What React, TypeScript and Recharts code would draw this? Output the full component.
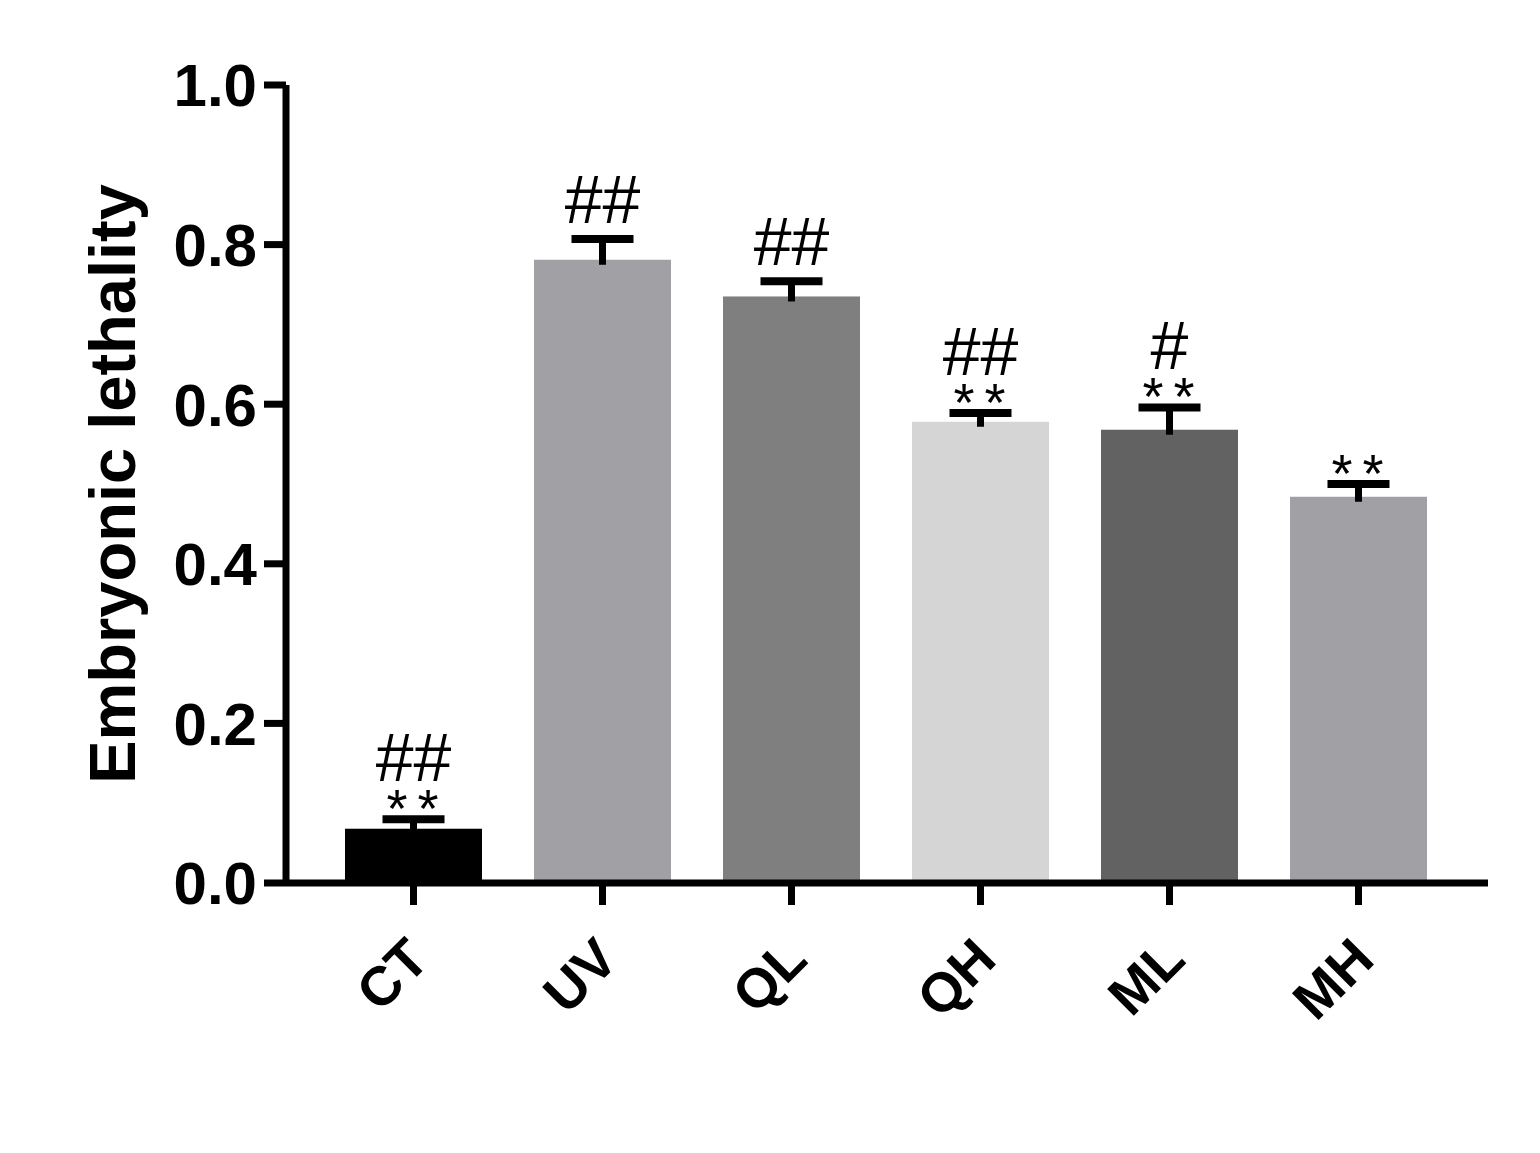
import { BarChart, Bar, XAxis, YAxis, Label } from 'recharts';

const groups = ['CT', 'UV', 'QL', 'QH', 'ML', 'MH'];
const lethality = [0.068, 0.781, 0.735, 0.578, 0.568, 0.484];
const sem = [0.012, 0.026, 0.019, 0.011, 0.028, 0.016];
const hashMarks = ['##', '##', '##', '##', '#', ''];
const starMarks = ['**', '', '', '**', '**', '**'];
const barColors = ['#000000', '#a1a1a5', '#7f7f7f', '#d5d5d5', '#626262', '#a1a1a5'];
const yTicks = [0, 0.2, 0.4, 0.6, 0.8, 1.0];

const FONT = '"Liberation Sans", Arial, sans-serif';

const data = groups.map((g, i) => ({
  group: g,
  mean: lethality[i],
  sem: sem[i],
  hash: hashMarks[i],
  star: starMarks[i],
  color: barColors[i],
}));

// bar + upward SEM whisker + significance marks, all placed off the bar's own scale
function BarWithError(props: any) {
  const { x, y, width, height, payload } = props;
  const perUnit = height / payload.mean;
  const errTop = y - payload.sem * perUnit;
  const cx = x + width / 2;
  const hashBase = payload.star ? errTop - 38 : errTop - 16;
  return (
    <g>
      <rect x={x} y={y} width={width} height={height} fill={payload.color} />
      <line x1={cx} x2={cx} y1={y + 5} y2={errTop} stroke="#000" strokeWidth={7} />
      <line x1={cx - 31} x2={cx + 31} y1={errTop} y2={errTop} stroke="#000" strokeWidth={8} />
      {payload.star && (
        <text x={cx + 4} y={errTop + 8} textAnchor="middle" fontFamily={FONT} fontSize={54} letterSpacing={10} fill="#000">
          {payload.star}
        </text>
      )}
      {payload.hash && (
        <text x={cx} y={hashBase} textAnchor="middle" fontFamily={FONT} fontSize={68} fill="#000">
          {payload.hash}
        </text>
      )}
    </g>
  );
}

function GroupTick({ x, y, payload }: any) {
  const ax = x + 18;
  const ay = y + 57;
  return (
    <text
      x={ax}
      y={ay}
      transform={`rotate(-45 ${ax} ${ay})`}
      textAnchor="end"
      fontFamily={FONT}
      fontWeight="bold"
      fontSize={55}
      fill="#000"
    >
      {payload.value}
    </text>
  );
}

function YTitle(props: any) {
  const vb = props.viewBox;
  const tx = 127;
  const ty = vb.y + vb.height / 2;
  return (
    <text
      x={tx}
      y={ty}
      transform={`rotate(-90 ${tx} ${ty})`}
      textAnchor="middle"
      fontFamily={FONT}
      fontWeight="bold"
      fontSize={65}
      fill="#000"
    >
      Embryonic lethality
    </text>
  );
}

export default function App() {
  return (
    <div style={{ width: 1520, height: 1130, background: '#fff' }}>
      <BarChart width={1520} height={1130} data={data} margin={{ top: 77, right: 40, left: 0, bottom: 0 }}>
        <XAxis
          dataKey="group"
          height={255}
          padding={{ left: 33, right: 35 }}
          axisLine={{ stroke: '#000', strokeWidth: 7 }}
          tickLine={{ stroke: '#000', strokeWidth: 7 }}
          tickSize={22}
          tickMargin={0}
          tick={<GroupTick />}
          interval={0}
        />
        <YAxis
          width={278}
          domain={[0, 1]}
          ticks={yTicks}
          tickFormatter={(v: number) => v.toFixed(1)}
          axisLine={{ stroke: '#000', strokeWidth: 7 }}
          tickLine={{ stroke: '#000', strokeWidth: 7 }}
          tickSize={22}
          tickMargin={7}
          tick={{ fill: '#000', fontSize: 60, fontWeight: 'bold', fontFamily: FONT }}
        >
          <Label content={<YTitle />} />
        </YAxis>
        <Bar dataKey="mean" barSize={137} shape={<BarWithError />} isAnimationActive={false} />
      </BarChart>
    </div>
  );
}
